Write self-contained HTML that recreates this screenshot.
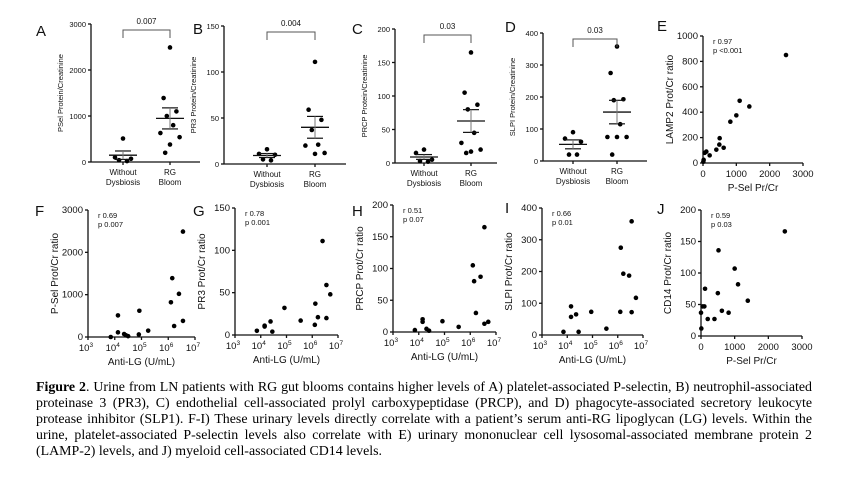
<!DOCTYPE html>
<html><head><meta charset="utf-8">
<style>
body{margin:0;background:#fff;width:853px;height:480px;overflow:hidden;position:relative;font-family:"Liberation Sans",Arial,sans-serif}
svg{position:absolute;left:0;top:0}
.cap{position:absolute;left:36px;width:776px;font-family:"Liberation Serif",serif;font-size:13.9px;line-height:16px;text-align:justify;text-align-last:justify;white-space:nowrap;color:#000}
.cap.last{text-align-last:left}
</style></head><body>
<svg id="fig" width="853" height="380"></svg>
<div class="cap" style="top:380px"><b>Figure 2</b>. Urine from LN patients with RG gut blooms contains higher levels of A) platelet-associated P-selectin, B) neutrophil-associated</div>
<div class="cap" style="top:396px">proteinase 3 (PR3), C) endothelial cell-associated prolyl carboxypeptidase (PRCP), and D) phagocyte-associated secretory leukocyte</div>
<div class="cap" style="top:412px">protease inhibitor (SLP1). F-I) These urinary levels directly correlate with a patient’s serum anti-RG lipoglycan (LG) levels. Within the</div>
<div class="cap" style="top:428px">urine, platelet-associated P-selectin levels also correlate with E) urinary mononuclear cell lysosomal-associated membrane protein 2</div>
<div class="cap last" style="top:444px">(LAMP-2) levels, and J) myeloid cell-associated CD14 levels.</div>
<script>
// Dot-plot data
const groupLabels=[["Without","Dysbiosis"],["RG","Bloom"]];
const aWithout=[510,20,70,40,100];
const aBloom=[2490,1390,1100,1000,800,630,540,380,200];
const bWithout=[16,11,10,5,4];
const bBloom=[111,59,48,37,21,20,12,11];
const cWithout=[20,15,5,3,2];
const cBloom=[165,105,87,80,45,30,20,15,17];
const dWithout=[90,70,60,20,20];
const dBloom=[358,275,193,190,115,75,75,75,20];
const pValues=["0.007","0.004","0.03","0.03"];
// Scatter data (log10 anti-LG)
const fX=[3.85,4.12,4.12,4.35,4.42,4.5,4.92,4.9,5.25,6.1,6.15,6.22,6.4,6.55,6.55];
const fY=[0,510,110,70,40,20,620,60,150,820,1390,260,1020,2490,380];
const gX=[3.85,4.15,4.15,4.38,4.45,4.92,5.55,6.1,6.12,6.22,6.55,6.55,6.7,6.4];
const gY=[5,11,10,16,4,32,17,12,37,21,59,20,48,111];
const hX=[3.85,4.15,4.15,4.3,4.4,4.92,5.55,6.1,6.15,6.22,6.4,6.55,6.55,6.7];
const hY=[3,20,16,5,2,17,8,105,80,30,87,165,13,16];
const iX=[3.85,4.15,4.15,4.35,4.45,4.95,5.55,6.1,6.12,6.22,6.45,6.55,6.55,6.72];
const iY=[10,90,57,65,10,73,20,73,275,193,187,358,72,117];
// P-Sel vs others
const eX=[2490,1100,1390,1000,820,500,490,620,400,200,100,50,20,10];
const eY=[850,490,445,375,325,195,145,120,105,60,90,80,25,10];
const jX=[10,0,50,100,120,200,400,500,520,620,820,1000,1100,1390,2490];
const jY=[12,37,47,47,75,27,27,68,136,40,37,107,82,56,166];
const stats=[["r 0.97","p <0.001"],["r 0.69","p 0.007"],["r 0.78","p 0.001"],["r 0.51","p 0.07"],["r 0.66","p 0.01"],["r 0.59","p 0.03"]];

const S="http://www.w3.org/2000/svg",svg=document.getElementById('fig');
function el(t,a,p){const e=document.createElementNS(S,t);for(const k in a)e.setAttribute(k,a[k]);(p||svg).appendChild(e);return e;}
function txt(s,x,y,sz,anchor,p,rot){const t=el('text',{x:x,y:y,'font-size':sz,'text-anchor':anchor||'middle',fill:'#111'},p);if(rot)t.setAttribute('transform','rotate(-90 '+x+' '+y+')');t.textContent=s;return t;}
function line(x1,y1,x2,y2,p,w,c){return el('line',{x1:x1,y1:y1,x2:x2,y2:y2,stroke:c||'#111','stroke-width':w||1.3},p);}
function letter(s,x,y){const t=txt(s,x,y,15,'start');}

function yAxis(g,ax,yTop,y0,max,ticks,fs){
  const sy=v=>y0-(v/max)*(y0-yTop);
  line(ax,yTop,ax,y0,g);
  ticks.forEach(v=>{line(ax-3,sy(v),ax,sy(v),g);txt(String(v),ax-5,sy(v)+3,fs,'end',g);});
  return sy;
}
function dotPlot(name,L,lx,ly,ax,xEnd,yTop,y0,max,ticks,title,c1,c2,w,b,p){
  letter(L,lx,ly);
  const g=el('g',{});
  
  
  const sy=yAxis(g,ax,yTop,y0,max,ticks,7.5);
  line(ax,y0,xEnd,y0,g);
  txt(title,ax-28,(yTop+y0)/2,7.5,'middle',g,true);
  const jit=[0,-8,8,-4,4,-12,12,0,-6];
  [[w,c1],[b,c2]].forEach((d,gi)=>{
    const arr=d[0],cx=d[1];
    line(cx,y0,cx,y0+3,g);
    txt(groupLabels[gi][0],cx,y0+13,8,'middle',g);
    txt(groupLabels[gi][1],cx,y0+23,8,'middle',g);
    const sorted=arr.slice().sort((a,b)=>b-a);
    sorted.forEach((v,i)=>{const c=el('circle',{cx:cx+jit[i%jit.length]*(arr.length<6?1:0.8),cy:sy(v),r:2.3,fill:'#000'},g);
      
      });
    const n=arr.length,m=arr.reduce((a,b)=>a+b,0)/n;
    const sd=Math.sqrt(arr.reduce((a,b)=>a+(b-m)*(b-m),0)/(n-1)),se=sd/Math.sqrt(n);
    line(cx-14,sy(m),cx+14,sy(m),g,1.3);
    line(cx-8,sy(m+se),cx+8,sy(m+se),g,1.2);
    line(cx-8,sy(m-se),cx+8,sy(m-se),g,1.2);
    line(cx,sy(m+se),cx,sy(Math.max(0,m-se)),g,1,'#777');
  });
  const by=yTop+6;
  el('path',{d:`M${c1},${by+8}V${by}H${c2}V${by+8}`,fill:'none',stroke:'#555','stroke-width':1},g);
  txt(p,(c1+c2)/2,by-6,8,'middle',g);
}
dotPlot('chart-a-psel','A',36,36,91,200,24,162,3000,[0,1000,2000,3000],'PSel Protein/Creatinine',123,170,aWithout,aBloom,pValues[0]);
dotPlot('chart-b-pr3','B',193,34,224,346,26,164,150,[0,50,100,150],'PR3 Protein/Creatinine',267,315,bWithout,bBloom,pValues[1]);
dotPlot('chart-c-prcp','C',352,34,395,497,29,163,200,[0,50,100,150,200],'PRCP Protein/Creatinine',424,471,cWithout,cBloom,pValues[2]);
dotPlot('chart-d-slpi','D',505,32,543,647,33,161,400,[0,100,200,300,400],'SLPI Protein/Creatinine',573,617,dWithout,dBloom,pValues[3]);

function scatter(name,L,lx,ly,ax,xEnd,yTop,y0,max,ticks,title,xs,ys,st,logx,xmax,xticks,xtitle){
  letter(L,lx,ly);
  const g=el('g',{});
  
  
  const sy=yAxis(g,ax,yTop,y0,max,ticks,9.5);
  line(ax,y0,xEnd,y0,g);
  const sx=logx?(v=>ax+(v-3)/4*(xEnd-ax)):(v=>ax+v/xmax*(xEnd-ax));
  xticks.forEach(v=>{const x=sx(v);line(x,y0,x,y0+3,g);
    if(logx){const t=txt('10',x-2,y0+14,9.5,'middle',g);const s=el('tspan',{'font-size':6.5,dy:-4},t);s.textContent=String(v);}
    else txt(String(v),x,y0+14,9.5,'middle',g);});
  txt(xtitle,(ax+xEnd)/2,y0+28,10,'middle',g);
  txt(title,ax-30,(yTop+y0)/2,10,'middle',g,true);
  txt(st[0],ax+10,yTop+8,7.5,'start',g);txt(st[1],ax+10,yTop+17,7.5,'start',g);
  xs.forEach((v,i)=>{const c=el('circle',{cx:sx(v),cy:sy(ys[i]),r:2.3,fill:'#000'},g);
    
    });
}
const logTicks=[3,4,5,6,7];
scatter('chart-e-lamp2','E',657,31,703,803,36,163,1000,[0,200,400,600,800,1000],'LAMP2 Prot/Cr ratio',eX,eY,stats[0],false,3000,[0,1000,2000,3000],'P-Sel Pr/Cr');
scatter('chart-f-psel-antilg','F',35,216,88,195,210,337,3000,[0,1000,2000,3000],'P-Sel Prot/Cr ratio',fX,fY,stats[1],true,0,logTicks,'Anti-LG (U/mL)');
scatter('chart-g-pr3-antilg','G',193,216,235,338,208,335,150,[0,50,100,150],'PR3 Prot/Cr ratio',gX,gY,stats[2],true,0,logTicks,'Anti-LG (U/mL)');
scatter('chart-h-prcp-antilg','H',352,216,393,496,205,332,200,[0,50,100,150,200],'PRCP Prot/Cr ratio',hX,hY,stats[3],true,0,logTicks,'Anti-LG (U/mL)');
scatter('chart-i-slpi-antilg','I',505,213,542,643,208,335,400,[0,100,200,300,400],'SLPI Prot/Cr ratio',iX,iY,stats[4],true,0,logTicks,'Anti-LG (U/mL)');
scatter('chart-j-cd14','J',657,214,701,802,210,336,200,[0,50,100,150,200],'CD14 Prot/Cr ratio',jX,jY,stats[5],false,3000,[0,1000,2000,3000],'P-Sel Pr/Cr');
</script>
</body></html>
